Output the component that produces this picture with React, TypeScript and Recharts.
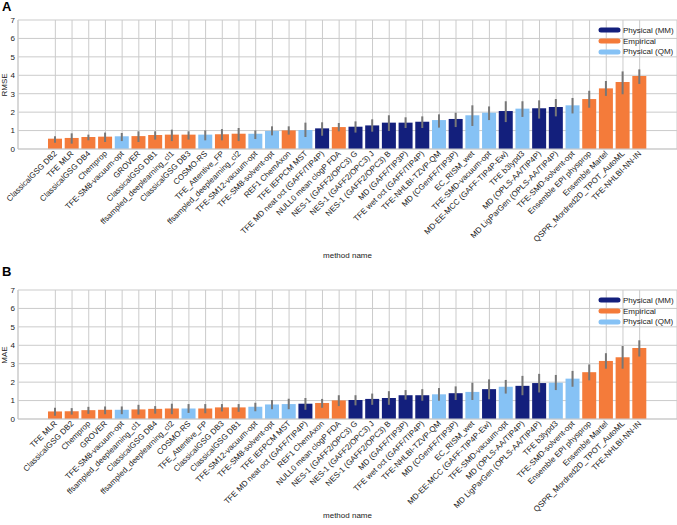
import React from 'react';
import { BarChart, Bar, XAxis, YAxis, CartesianGrid, Cell, ErrorBar } from 'recharts';

const COLORS: Record<string, string> = {
    MM: '#131f7c',
    EMP: '#f47b3a',
    QM: '#86c2f5',
};
const LEGEND = [
    { key: 'MM', label: 'Physical (MM)' },
    { key: 'EMP', label: 'Empirical' },
    { key: 'QM', label: 'Physical (QM)' },
];

// panel A - RMSE
const NAMES_A = [
    'ClassicalGSG DB2', 'TFE MLR', 'ClassicalGSG DB4', 'Chemprop', 'TFE-SM8-vacuum-opt', 'GROVER',
    'ClassicalGSG DB1', 'ffsampled_deeplearning_cl1', 'ClassicalGSG DB3', 'COSMO-RS', 'TFE_Attentive_FP',
    'ffsampled_deeplearning_cl2', 'TFE-SM12-vacuum-opt', 'TFE-SM8-solvent-opt', 'REF1 ChemAxon',
    'TFE IEFPCM MST', 'TFE MD neat oct (GAFF/TIP4P)', 'NULL0 mean clogP FDA', 'NES-1 (GAFF2/OPC3) G',
    'NES-1 (GAFF2/OPC3) J', 'NES-1 (GAFF2/OPC3) B', 'MD (GAFF/TIP3P)', 'TFE wet oct (GAFF/TIP4P)',
    'TFE-NHLBI-TZVP-QM', 'MD (CGenFF/TIP3P)', 'EC_RISM_wet', 'TFE-SMD-vacuum-opt',
    'MD-EE-MCC (GAFF-TIP4P-Ew)', 'TFE b3lypd3', 'MD (OPLS-AA/TIP4P)', 'MD LigParGen (OPLS-AA/TIP4P)',
    'TFE-SMD-solvent-opt', 'Ensemble EPI physprop', 'Ensemble Martel', 'QSPR_Mordred2D_TPOT_AutoML',
    'TFE-NHLBI-NN-IN',
];
const TYPES_A = [
    'EMP', 'EMP', 'EMP', 'EMP', 'QM', 'EMP', 'EMP', 'EMP', 'EMP', 'QM', 'EMP', 'EMP', 'QM', 'QM', 'EMP', 'QM',
    'MM', 'EMP', 'MM', 'MM', 'MM', 'MM', 'MM', 'QM', 'MM', 'QM', 'QM', 'MM', 'QM', 'MM', 'MM', 'QM',
    'EMP', 'EMP', 'EMP', 'EMP',
];
const RMSE = [
    0.56, 0.60, 0.65, 0.67, 0.69, 0.70, 0.76, 0.78, 0.78, 0.78, 0.80, 0.83, 0.83, 0.98, 1.01, 1.03,
    1.12, 1.19, 1.21, 1.28, 1.43, 1.43, 1.48, 1.57, 1.63, 1.83, 1.97, 2.06, 2.19, 2.21, 2.28, 2.37,
    2.71, 3.29, 3.63, 3.96,
];
const RMSE_LO = [
    0.34, 0.29, 0.47, 0.38, 0.43, 0.38, 0.51, 0.43, 0.51, 0.47, 0.47, 0.43, 0.54, 0.74, 0.78, 0.65,
    0.72, 0.96, 0.89, 0.94, 0.98, 1.14, 1.14, 1.16, 1.19, 1.25, 1.57, 1.46, 1.74, 1.65, 1.77, 1.93,
    2.24, 2.88, 2.97, 3.53,
];
const RMSE_HI = [
    0.69, 0.85, 0.78, 0.89, 0.87, 0.96, 0.96, 1.05, 0.96, 1.01, 1.08, 1.14, 1.01, 1.23, 1.23, 1.43,
    1.45, 1.41, 1.50, 1.61, 1.83, 1.72, 1.77, 1.88, 1.97, 2.37, 2.31, 2.59, 2.59, 2.64, 2.71, 2.77,
    3.16, 3.69, 4.21, 4.32,
];

// panel B - MAE
const NAMES_B = [
    'TFE MLR', 'ClassicalGSG DB2', 'Chemprop', 'GROVER', 'TFE-SM8-vacuum-opt', 'ffsampled_deeplearning_cl1',
    'ClassicalGSG DB4', 'ffsampled_deeplearning_cl2', 'COSMO-RS', 'TFE_Attentive_FP', 'ClassicalGSG DB3',
    'ClassicalGSG DB1', 'TFE-SM12-vacuum-opt', 'TFE-SM8-solvent-opt', 'TFE IEFPCM MST',
    'TFE MD neat oct (GAFF/TIP4P)', 'REF1 ChemAxon', 'NULL0 mean clogP FDA', 'NES-1 (GAFF2/OPC3) G',
    'NES-1 (GAFF2/OPC3) J', 'NES-1 (GAFF2/OPC3) B', 'MD (GAFF/TIP3P)', 'TFE wet oct (GAFF/TIP4P)',
    'TFE-NHLBI-TZVP-QM', 'MD (CGenFF/TIP3P)', 'EC_RISM_wet', 'MD-EE-MCC (GAFF-TIP4P-Ew)',
    'TFE-SMD-vacuum-opt', 'MD (OPLS-AA/TIP4P)', 'MD LigParGen (OPLS-AA/TIP4P)', 'TFE b3lypd3',
    'TFE-SMD-solvent-opt', 'Ensemble EPI physprop', 'Ensemble Martel', 'QSPR_Mordred2D_TPOT_AutoML',
    'TFE-NHLBI-NN-IN',
];
const TYPES_B = [
    'EMP', 'EMP', 'EMP', 'EMP', 'QM', 'EMP', 'EMP', 'EMP', 'QM', 'EMP', 'EMP', 'EMP', 'QM', 'QM', 'QM', 'MM',
    'EMP', 'EMP', 'MM', 'MM', 'MM', 'MM', 'MM', 'QM', 'MM', 'QM', 'MM', 'QM', 'MM', 'MM', 'QM', 'QM',
    'EMP', 'EMP', 'EMP', 'EMP',
];
const MAE = [
    0.41, 0.42, 0.48, 0.50, 0.50, 0.52, 0.55, 0.57, 0.57, 0.57, 0.63, 0.63, 0.66, 0.79, 0.81, 0.83,
    0.87, 1.01, 1.03, 1.09, 1.14, 1.29, 1.29, 1.34, 1.40, 1.47, 1.62, 1.75, 1.80, 1.95, 1.97, 2.19,
    2.54, 3.15, 3.35, 3.85,
];
const MAE_LO = [
    0.18, 0.24, 0.28, 0.26, 0.26, 0.24, 0.29, 0.26, 0.33, 0.31, 0.41, 0.39, 0.42, 0.53, 0.53, 0.50,
    0.61, 0.70, 0.74, 0.77, 0.77, 1.05, 0.99, 0.99, 1.03, 1.03, 1.07, 1.38, 1.29, 1.44, 1.57, 1.75,
    2.10, 2.73, 2.73, 3.39,
];
const MAE_HI = [
    0.61, 0.59, 0.66, 0.68, 0.68, 0.77, 0.70, 0.83, 0.81, 0.81, 0.81, 0.81, 0.88, 1.03, 1.10, 1.14,
    1.09, 1.29, 1.29, 1.38, 1.51, 1.57, 1.62, 1.68, 1.77, 1.97, 2.15, 2.12, 2.34, 2.45, 2.39, 2.61,
    2.96, 3.57, 3.96, 4.27,
];

const Y_TICKS = [0, 1, 2, 3, 4, 5, 6, 7];
const FONT = '"Liberation Sans", Arial, sans-serif';

function buildRows(names: string[], types: string[], vals: number[], lo: number[], hi: number[]) {
    return names.map((name, i) => ({
        name,
        type: types[i],
        value: vals[i],
        err: [vals[i] - lo[i], hi[i] - vals[i]],
    }));
}

const AngledTick = (props: any) => {
    const { x, y, payload } = props;
    return (
        <g transform={`translate(${x},${y})`}>
            <text x={0} y={0} dy={3} textAnchor="end" transform="rotate(-45)" fontSize={8} fill="#222" fontFamily={FONT}>
                {payload.value}
            </text>
        </g>
    );
};

function Panel({ letter, yLabel, rows, height, top }: any) {
    return (
        <div style={{ position: 'relative', width: 677, height }}>
            <div style={{ position: 'absolute', left: 2, top: -1, fontFamily: FONT, fontWeight: 'bold', fontSize: 13 }}>{letter}</div>
            <BarChart width={677} height={height} data={rows} margin={{ top, right: 0, bottom: 0, left: 0 }}>
                <CartesianGrid stroke="#cbcbcb" />
                <XAxis
                    dataKey="name"
                    interval={0}
                    padding={{ left: 29, right: 29 }}
                    height={height - top - 129}
                    stroke="#cbcbcb"
                    tickLine={false}
                    tickSize={0}
                    tickMargin={3}
                    tick={<AngledTick />}
                    label={{ value: 'method name', position: 'insideBottom', offset: 7, fontSize: 8, fill: '#222', fontFamily: FONT }}
                />
                <YAxis
                    width={18}
                    domain={[0, 7]}
                    ticks={Y_TICKS}
                    interval={0}
                    stroke="#cbcbcb"
                    tickLine={false}
                    tickSize={0}
                    tickMargin={3}
                    tick={{ fontSize: 8, fill: '#222', fontFamily: FONT }}
                />
                <Bar dataKey="value" barSize={14} isAnimationActive={false}>
                    {rows.map((r: any, i: number) => (
                        <Cell key={`c-${i}`} fill={COLORS[r.type]} />
                    ))}
                    <ErrorBar dataKey="err" width={0} stroke="#777" strokeWidth={2} isAnimationActive={false} />
                </Bar>
            </BarChart>
            <div
                style={{
                    position: 'absolute', left: 5, top: top + 65, transform: 'translate(-50%,-50%) rotate(-90deg)',
                    fontFamily: FONT, fontSize: 8, lineHeight: 1, color: '#222', whiteSpace: 'nowrap',
                }}
            >
                {yLabel}
            </div>
            <div style={{ position: 'absolute', left: 598, top: top + 5 }}>
                {LEGEND.map((l) => (
                    <div key={l.key} style={{ display: 'flex', alignItems: 'center', height: 10.7 }}>
                        <svg width={23} height={8}>
                            <line x1={3} y1={4} x2={20} y2={4} stroke={COLORS[l.key]} strokeWidth={5} strokeLinecap="round" />
                        </svg>
                        <span style={{ fontFamily: FONT, fontSize: 8, color: '#222', marginLeft: 2 }}>{l.label}</span>
                    </div>
                ))}
            </div>
        </div>
    );
}

export default function App() {
    const rowsA = buildRows(NAMES_A, TYPES_A, RMSE, RMSE_LO, RMSE_HI);
    const rowsB = buildRows(NAMES_B, TYPES_B, MAE, MAE_LO, MAE_HI);
    return (
        <div style={{ position: 'absolute', left: 0, top: 0, width: 677, height: 525, background: '#fff' }}>
            <Panel letter="A" yLabel="RMSE" rows={rowsA} height={265} top={20} />
            <Panel letter="B" yLabel="MAE" rows={rowsB} height={260} top={25} />
        </div>
    );
}
